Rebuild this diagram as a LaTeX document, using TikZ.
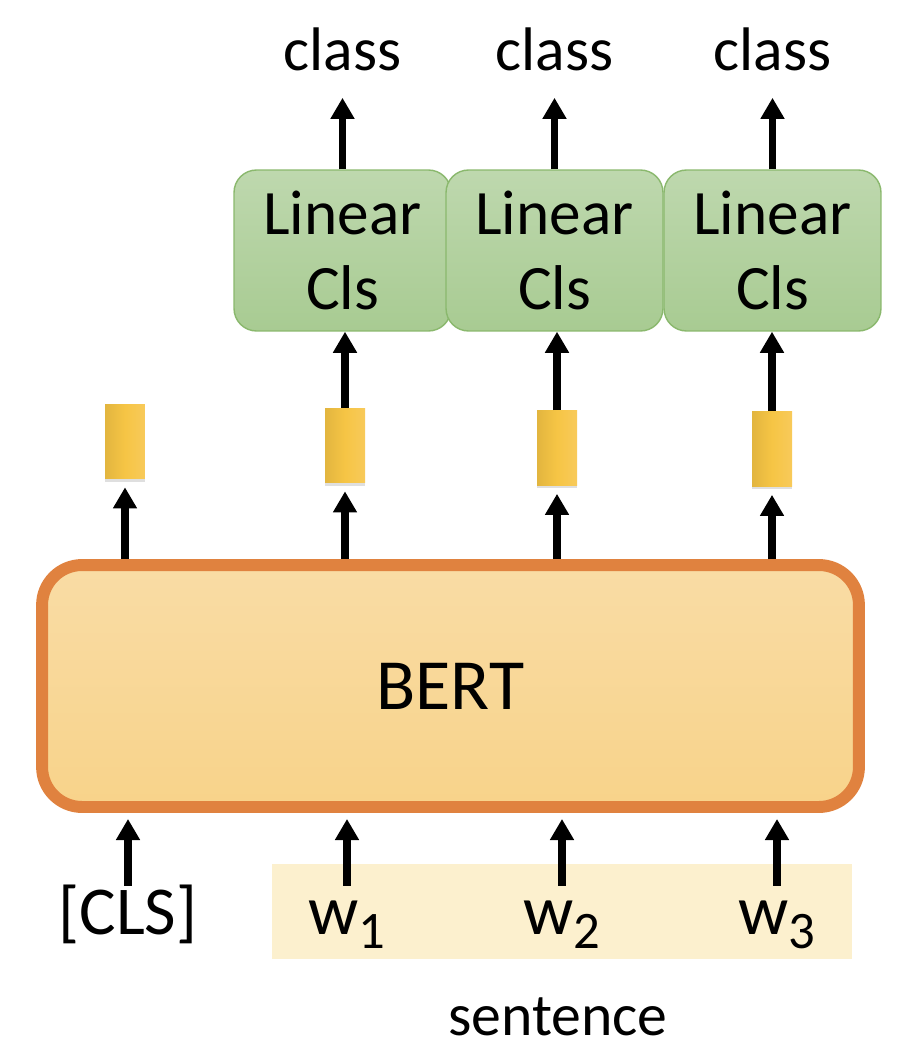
\documentclass[tikz,border=0pt]{standalone}
\usepackage{fontspec}
\setmainfont{Carlito}
\usetikzlibrary{arrows.meta, positioning, shadows}
\definecolor{bertline}{HTML}{E0823F}
\definecolor{berttop}{HTML}{F9DCA5}
\definecolor{bertbot}{HTML}{F8D38A}
\definecolor{lintop}{HTML}{BED8AE}
\definecolor{linbot}{HTML}{A8CB92}
\definecolor{linline}{HTML}{8AB86D}
\definecolor{sentfill}{HTML}{FCF0CE}
\definecolor{vecleft}{HTML}{E2B53F}
\definecolor{vecmid}{HTML}{F6C545}
\definecolor{vecright}{HTML}{F8CA5A}

\begin{document}
\begin{tikzpicture}[x=0.02cm, y=-0.02cm,
		arr/.style={line width=4.5pt, -{Triangle[width=13pt, length=12pt]}},
		bertbox/.style={draw=bertline, line width=6.8pt, rounded corners=0.8cm, top color=berttop, bottom color=bertbot,
			minimum width=16.34cm, minimum height=4.84cm, inner sep=0pt, font=\fontsize{41}{41}\selectfont},
		linbox/.style={draw=linline, line width=0.8pt, rounded corners=0.45cm, top color=lintop, bottom color=linbot,
			minimum width=4.34cm, minimum height=3.22cm, inner sep=0pt, align=center, font=\fontsize{36}{42.5}\selectfont},
		vecbox/.style={minimum width=0.8cm, minimum height=1.5cm, inner sep=0pt, left color=vecleft, right color=vecright,
			middle color=vecmid, drop shadow={shadow xshift=0pt, shadow yshift=-1.5pt, opacity=0.25}},
		inp/.style={anchor=base, inner sep=0pt, text height=0.96cm},
		outlbl/.style={anchor=base, inner sep=0pt, font=\fontsize{35}{35}\selectfont}]
	\useasboundingbox (0,0) rectangle (920,1064);

	% sentence band and words
	\node[fill=sentfill, minimum width=11.6cm, minimum height=1.9cm, inner sep=0pt] (sent) at (562,911.5) {};
	\node[inp, font=\fontsize{39}{39}\selectfont] (cls) at (128,934) {[CLS]};
	\foreach [count=\i] \x in {347,562,777}{
		\node[inp, font=\fontsize{40}{40}\selectfont] (w\i) at (\x,934) {w\raisebox{-8pt}{\fontsize{30}{30}\selectfont \i}};
	}
	\node[anchor=base, inner sep=0pt, font=\fontsize{34}{34}\selectfont] (sentlbl) at (558,1035) {sentence};

	% encoder
	\node[bertbox] (bert) at (450.5,686) {BERT};
	\draw[arr, shorten >=0.12cm] (cls.north) -- (cls.north |- bert.south);
	\foreach \i in {1,2,3}{
		\draw[arr, shorten >=0.12cm] (w\i.north) -- (w\i.north |- bert.south);
	}

	% token vectors
	\foreach [count=\i] \x/\y in {125/441.5, 345/445.5, 557/448, 772/449}{
		\node[vecbox] (vec\i) at (\x,\y) {};
		\draw[arr, shorten >=0.16cm] (bert.north -| vec\i) -- (vec\i.south);
	}

	% classifiers and outputs
	\foreach [count=\i] \x in {342.5,554.5,772.5}{
		\node[linbox] (lin\i) at (\x,250.5) {Linear\\Cls};
		\node[outlbl] (out\i) at (\x,71) {class};
		\draw[arr, shorten >=0.52cm] (lin\i.north) -- (lin\i.north |- out\i.south);
	}
	\draw[arr] (vec2.north) -- (vec2.north |- lin1.south);
	\draw[arr] (vec3.north) -- (vec3.north |- lin2.south);
	\draw[arr] (vec4.north) -- (vec4.north |- lin3.south);
\end{tikzpicture}
\end{document}
